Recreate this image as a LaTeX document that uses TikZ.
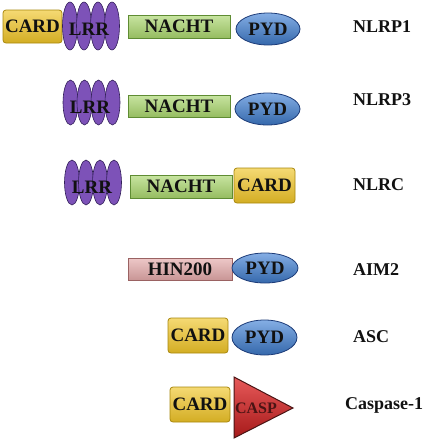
\documentclass[tikz,border=0pt]{standalone}
\usepackage{fontspec}
\setmainfont{Liberation Serif}
\usetikzlibrary{shapes.geometric}
\definecolor{cardc}{HTML}{F0C528}
\definecolor{cardd}{HTML}{A8870C}
\definecolor{lrrc}{HTML}{7D52B8}
\definecolor{lrrd}{HTML}{33205A}
\definecolor{nachtc}{HTML}{AAD66E}
\definecolor{nachtd}{HTML}{5F8C33}
\definecolor{pydc}{HTML}{4282D6}
\definecolor{pydd}{HTML}{1C3B78}
\definecolor{hinc}{HTML}{E4AAAA}
\definecolor{hind}{HTML}{9A6262}
\definecolor{caspc}{HTML}{DE2222}
\definecolor{caspd}{HTML}{4A1414}
\definecolor{txt}{HTML}{111111}
\tikzset{
  lbl/.style={font=\fontsize{18}{18}\selectfont\bfseries, text=txt, inner sep=0pt},
  dom/.style={font=\fontsize{19}{19}\selectfont\bfseries, text=txt, inner sep=0pt, line width=0.8pt},
  cardbox/.style={dom, rectangle, rounded corners=3pt, draw=cardd, top color=cardc!65!white, middle color=cardc, bottom color=cardc!88!black},
  nachtbox/.style={dom, rectangle, draw=nachtd, top color=nachtc!65!white, middle color=nachtc, bottom color=nachtc!88!black},
  hinbox/.style={dom, rectangle, draw=hind, top color=hinc!65!white, middle color=hinc, bottom color=hinc!88!black},
  pydell/.style={dom, ellipse, draw=pydd, top color=pydc!65!white, middle color=pydc, bottom color=pydc!80!black},
  lrrell/.style={ellipse, inner sep=0pt, draw=lrrd, line width=0.6pt, fill=lrrc, minimum width=15pt},
  lrrtxt/.style={font=\fontsize{19}{19}\selectfont\bfseries, text=txt, inner sep=0pt},
  protname/.style={lbl, anchor=west}
}
\begin{document}
\begin{tikzpicture}[x=1pt,y=-1pt]
\useasboundingbox (0,0) rectangle (429,440);
% Row 1: NLRP1
\node[cardbox, minimum width=59pt, minimum height=33pt] (c1) at (32.5,26.5) {CARD};
\foreach \i/\x in {1/70,2/84,3/98,4/112}
  \node[lrrell, minimum height=48pt] (la\i) at (\x,26) {};
\node[lrrtxt] (lrr1) at (89,29) {LRR};
\node[nachtbox, minimum width=102pt, minimum height=23pt] (n1) at (179,26.5) {NACHT};
\node[pydell, minimum width=64pt, minimum height=32pt] (p1) at (268,29) {PYD};
\node[protname] (t1) at (353,27) {NLRP1};
% Row 2: NLRP3
\foreach \i/\x in {1/70.5,2/84.5,3/98.5,4/112.5}
  \node[lrrell, minimum height=45pt] (lb\i) at (\x,102.5) {};
\node[lrrtxt] (lrr2) at (90,107) {LRR};
\node[nachtbox, minimum width=102pt, minimum height=22pt] (n2) at (179,106) {NACHT};
\node[pydell, minimum width=65pt, minimum height=32pt] (p2) at (267.5,109) {PYD};
\node[protname] (t2) at (353,100) {NLRP3};
% Row 3: NLRC
\foreach \i/\x in {1/72,2/86,3/100,4/114}
  \node[lrrell, minimum height=45pt] (lc\i) at (\x,182.5) {};
\node[lrrtxt] (lrr3) at (92,187) {LRR};
\node[nachtbox, minimum width=102pt, minimum height=23pt] (n3) at (181,186.5) {NACHT};
\node[cardbox, minimum width=61pt, minimum height=35pt] (c3) at (264.5,185.5) {CARD};
\node[protname] (t3) at (353,185) {NLRC};
% Row 4: AIM2
\node[hinbox, minimum width=104pt, minimum height=22pt] (h4) at (180,269) {HIN200};
\node[pydell, minimum width=66pt, minimum height=30pt] (p4) at (265,268) {PYD};
\node[protname] (t4) at (353,270) {AIM2};
% Row 5: ASC
\node[cardbox, minimum width=60pt, minimum height=35pt] (c5) at (198,335.5) {CARD};
\node[pydell, minimum width=65pt, minimum height=35pt] (p5) at (264.5,337.5) {PYD};
\node[protname] (t5) at (353,337) {ASC};
% Row 6: Caspase-1
\node[cardbox, minimum width=60pt, minimum height=35pt] (c6) at (200,404.5) {CARD};
\shade[top color=caspc!75!white, middle color=caspc, bottom color=caspc!75!black, draw=caspd, line width=1pt, line join=miter]
  (234,377) -- (293,408) -- (234,438) -- cycle;
\node[lbl, font=\fontsize{16}{16}\selectfont\bfseries, text=caspd] (casp) at (256,408) {CASP};
\node[protname] (t6) at (345,405) {Caspase-1};
\end{tikzpicture}
\end{document}
